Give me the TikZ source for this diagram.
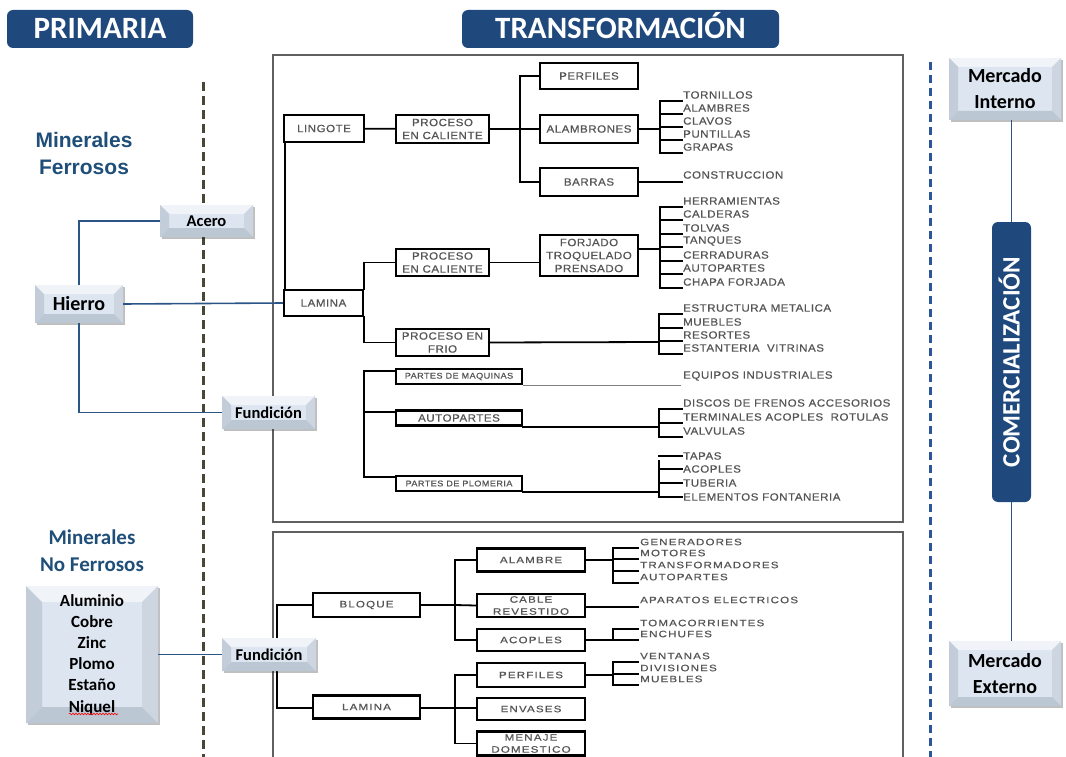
\documentclass[tikz,border=0pt]{standalone}
\usepackage{fontspec}
\setmainfont{Carlito}
\newfontfamily\arialf{Liberation Sans}
\newfontfamily\treef[LetterSpace=5,FakeStretch=1.1,FakeBold=0.6]{Liberation Sans}
\newfontfamily\treefb[LetterSpace=12,FakeStretch=1.25,FakeBold=0.6]{Liberation Sans}
\usetikzlibrary{calc,shadows,decorations.pathmorphing}
\definecolor{navy}{HTML}{1F497D}
\definecolor{mtitle}{HTML}{1F4E79}
\definecolor{connblue}{HTML}{2C5587}
\definecolor{dashol}{HTML}{4A4637}
\definecolor{dashbl}{HTML}{2B579A}
\definecolor{tgray}{HTML}{555555}
\definecolor{bvmid}{HTML}{DCE5F0}
\definecolor{bvtop}{HTML}{F0F4F8}
\definecolor{bvleft}{HTML}{C3CDD9}
\definecolor{bvright}{HTML}{CDD6E0}
\definecolor{bvbot}{HTML}{BCC7D4}
\tikzset{
  banner/.style={fill=navy, rounded corners=6pt, text=white, inner sep=0pt,
    font=\bfseries\fontsize{31}{32}\selectfont, text height=20pt, text depth=0pt},
  bevel/.style={fill=bvmid, inner sep=0pt, align=center, text=black,
    drop shadow={shadow xshift=1.5pt, shadow yshift=-2pt, opacity=.25, fill=black},
    path picture={
      \coordinate (bNW) at (path picture bounding box.north west);
      \coordinate (bNE) at (path picture bounding box.north east);
      \coordinate (bSW) at (path picture bounding box.south west);
      \coordinate (bSE) at (path picture bounding box.south east);
      \fill[bvtop] (bNW) -- (bNE) -- ($(bNE)+(-#1,-#1)$) -- ($(bNW)+(#1,-#1)$) -- cycle;
      \fill[bvleft] (bNW) -- ($(bNW)+(#1,-#1)$) -- ($(bSW)+(#1,#1)$) -- (bSW) -- cycle;
      \fill[bvright] (bNE) -- (bSE) -- ($(bSE)+(-#1,#1)$) -- ($(bNE)+(-#1,-#1)$) -- cycle;
      \fill[bvbot] (bSW) -- (bSE) -- ($(bSE)+(-#1,#1)$) -- ($(bSW)+(#1,#1)$) -- cycle;
    }},
  bevel/.default=9pt,
  bconn/.style={draw=connblue, line width=1.6pt},
  tbox/.style={draw=black, line width=2.4pt, fill=white, inner sep=0pt, align=center,
    text=tgray, font=\treef\fontsize{10.5}{13}\selectfont},
  lbox/.style={tbox, font=\treefb\fontsize{9.3}{12}\selectfont},
  leaf/.style={anchor=west, inner sep=0pt, text=tgray, font=\treef\fontsize{10.5}{12}\selectfont},
  leafb/.style={leaf, font=\treefb\fontsize{9.3}{11}\selectfont},
  tconn/.style={draw=black, line width=1.8pt, line cap=rect},
  thin/.style={draw=gray, line width=1pt},
  frame/.style={draw=gray!75!black, line width=1.1pt},
  mtext/.style={text=mtitle, align=center, inner sep=0pt},
}
\begin{document}
\begin{tikzpicture}[x=1pt,y=-1pt]
\useasboundingbox (0,0) rectangle (1066,757);

% separators and frames
\draw[dashol, line width=3pt, dash pattern=on 9pt off 5pt] (203,82) -- (203,757);
\draw[dashbl, line width=3pt, dash pattern=on 8pt off 5pt] (930,62) -- (930,757);
\draw[frame] (273,55) rectangle (903,522);
\draw[frame] (273,532) rectangle (903,770);

% banners
\node[banner, minimum width=186pt, minimum height=38pt] (prim) at (100,29) {PRIMARIA};
\node[banner, minimum width=317pt, minimum height=38pt] (trans) at (620.5,29) {TRANSFORMACIÓN};

% titles
\node[mtext, font=\arialf\bfseries\fontsize{21}{27}\selectfont] (mf) at (84,153) {Minerales\\Ferrosos};
\node[mtext, font=\bfseries\fontsize{21}{27}\selectfont] (mnf) at (92,551) {Minerales\\No Ferrosos};

% ===== upper tree =====
\node[tbox, minimum width=80pt, minimum height=27pt] (lingote) at (324,128.5) {LINGOTE};
\node[tbox, minimum width=93pt, minimum height=28pt] (pc1) at (442.5,129) {PROCESO\\EN CALIENTE};
\node[tbox, minimum width=98pt, minimum height=26pt] (perfiles) at (589,76) {PERFILES};
\node[tbox, minimum width=98pt, minimum height=28pt] (alambrones) at (589,129) {ALAMBRONES};
\node[tbox, minimum width=98pt, minimum height=28pt] (barras) at (589,182) {BARRAS};
\node[tbox, minimum width=93pt, minimum height=27pt] (pc2) at (442.5,262.5) {PROCESO\\EN CALIENTE};
\node[tbox, minimum width=98pt, minimum height=41pt] (forj) at (589,255.5) {FORJADO\\TROQUELADO\\PRENSADO};
\node[tbox, minimum width=79pt, minimum height=26pt] (lamina) at (323.5,303) {LAMINA};
\node[tbox, minimum width=93pt, minimum height=27pt] (pfrio) at (442.5,342.5) {PROCESO EN\\FRIO};
\node[tbox, minimum width=126pt, minimum height=15pt, font=\treef\fontsize{8.3}{10}\selectfont] (pmaq) at (459,376.5) {PARTES DE MAQUINAS};
\node[tbox, minimum width=126pt, minimum height=15pt] (autop) at (459,418) {AUTOPARTES};
\node[tbox, minimum width=126pt, minimum height=15pt, font=\treef\fontsize{8.3}{10}\selectfont] (pplom) at (459,483.5) {PARTES DE PLOMERIA};

% upper connectors
\draw[tconn] (lingote) -- (pc1);
\draw[tconn] (pc1) -- (alambrones);
\coordinate (t1) at (520,129);
\draw[tconn] (perfiles.west) -| (t1) |- (barras.west);
\draw[tconn] ([xshift=2pt]lingote.south west) -- ([xshift=2pt]lamina.north west);
\draw[tconn] (lamina.north east) |- (pc2.west);
\draw[tconn] (lamina.south east) |- (pfrio.west);
\draw[tconn] (pc2.east) -- (pc2.east -| forj.west);
\coordinate (ft) at (364,371);
\coordinate (fb) at (364,477);
\draw[tconn] (ft -| pmaq.west) -- (ft) -- (fb) -- (fb -| pplom.west);
\draw[tconn] (autop.west |- 0,412) -- (ft |- 0,412);

% leaves: alambrones
\coordinate (bA) at (660,129);
\draw[tconn] (alambrones.east) -- (bA);
\draw[tconn] (660,101) -- (660,153);
\foreach \t/\y [count=\i] in {TORNILLOS/95, ALAMBRES/108, CLAVOS/121, PUNTILLAS/134, GRAPAS/147}{
  \node[leaf] (ga\i) at (683,\y) {\t};
  \draw[tconn] (660,\y+6) -- ([yshift=-6pt,xshift=-1pt]ga\i.west);
}
\node[leaf] (c1) at (683,175) {CONSTRUCCION};
\draw[tconn] (barras.east) -- ([xshift=-1pt]barras.east -| c1.west);
% leaves: forjado
\coordinate (bF) at (660,249);
\draw[tconn] (forj.east |- bF) -- (bF);
\draw[tconn] (660,207) -- (660,288);
\foreach \t/\y [count=\i] in {HERRAMIENTAS/201, CALDERAS/214, TOLVAS/228, TANQUES/241, CERRADURAS/255, AUTOPARTES/268, CHAPA FORJADA/282}{
  \node[leaf] (gb\i) at (683,\y) {\t};
  \draw[tconn] (660,\y+6) -- ([yshift=-6pt,xshift=-1pt]gb\i.west);
}
% leaves: frio
\coordinate (bR) at (659,342);
\draw[tconn] (pfrio.east) -- (bR);
\draw[tconn] (659,314) -- (659,354);
\foreach \t/\y [count=\i] in {ESTRUCTURA METALICA/308, MUEBLES/322, RESORTES/335, ESTANTERIA\ \ VITRINAS/348}{
  \node[leaf] (gc\i) at (683,\y) {\t};
  \draw[tconn] (659,\y+6) -- ([yshift=-6pt,xshift=-1pt]gc\i.west);
}
% maquinas
\node[leaf] (eq) at (683,376) {EQUIPOS INDUSTRIALES};
\draw[thin] (pmaq.south east) -- ([xshift=-2pt]pmaq.south east -| eq.west);
% autopartes
\coordinate (bU) at (659,425);
\draw[tconn] (autop.south east) -- (autop.south east -| bU);
\draw[tconn] (659,409) -- (659,437);
\foreach \t/\y [count=\i] in {DISCOS DE FRENOS ACCESORIOS/403, TERMINALES ACOPLES\ \ ROTULAS/417, VALVULAS/431}{
  \node[leaf] (gd\i) at (683,\y) {\t};
  \draw[tconn] (659,\y+6) -- ([yshift=-6pt,xshift=-1pt]gd\i.west);
}
% plomeria
\coordinate (bP) at (659,491);
\draw[tconn] (pplom.south east) -- (pplom.south east -| bP);
\draw[tconn] (659,461) -- (659,497);
\foreach \t/\y [count=\i] in {TAPAS/456, ACOPLES/469, TUBERIA/483, ELEMENTOS FONTANERIA/497}{
  \node[leaf] (ge\i) at (683,\y) {\t};
  \draw[tconn] (659,\y) -- ([yshift=0pt,xshift=-1pt]ge\i.west);
}

% ===== lower tree =====
\node[lbox, minimum width=107pt, minimum height=24pt] (bloque) at (366.5,605) {BLOQUE};
\node[lbox, minimum width=107pt, minimum height=23pt] (lamina2) at (366.5,707) {LAMINA};
\node[lbox, minimum width=108pt, minimum height=23pt] (alambre) at (531,560) {ALAMBRE};
\node[lbox, minimum width=108pt, minimum height=23pt] (cable) at (531,605.5) {CABLE\\REVESTIDO};
\node[lbox, minimum width=108pt, minimum height=22pt] (acoples) at (531,640) {ACOPLES};
\node[lbox, minimum width=108pt, minimum height=24pt] (perf2) at (531,675) {PERFILES};
\node[lbox, minimum width=108pt, minimum height=22pt] (envases) at (531,709) {ENVASES};
\node[lbox, minimum width=108pt, minimum height=24pt] (menaje) at (531,743.5) {MENAJE\\DOMESTICO};

\coordinate (lt) at (277,605);
\coordinate (lb) at (277,708);
\draw[tconn] (bloque.west) -- (lt) -- (lb) -- (lamina2.west |- lb);
\coordinate (m1) at (455,605);
\draw[tconn] (bloque.east) -- (m1);
\draw[tconn] (alambre.west) -| (m1) |- (acoples.west);
\draw[tconn] (m1) -- (cable.west);
\coordinate (m2) at (455,708);
\draw[tconn] (lamina2.east |- m2) -- (m2);
\draw[tconn] (perf2.west) -| (m2) |- (menaje.west);
\draw[tconn] (m2) -- (envases.west |- m2);

% lower leaves
\coordinate (bL) at (613,560);
\draw[tconn] (alambre.east) -- (bL);
\draw[tconn] (613,548) -- (613,583);
\foreach \t/\y [count=\i] in {GENERADORES/542, MOTORES/553, TRANSFORMADORES/565, AUTOPARTES/577}{
  \node[leafb] (gf\i) at (640,\y) {\t};
  \draw[tconn] (613,\y+6) -- ([yshift=-6pt,xshift=-2pt]gf\i.west);
}
\node[leafb] (ap) at (640,600) {APARATOS ELECTRICOS};
\draw[tconn] (cable.east |- 0,607) -- ([xshift=-2pt,yshift=-7pt]ap.west);
\coordinate (bC) at (613,640);
\draw[tconn] (acoples.east) -- (bC);
\draw[tconn] (613,629) -- (613,640);
\foreach \t/\y [count=\i] in {TOMACORRIENTES/623, ENCHUFES/634}{
  \node[leafb] (gg\i) at (640,\y) {\t};
  \draw[tconn] (613,\y+6) -- ([yshift=-6pt,xshift=-2pt]gg\i.west);
}
\coordinate (bV) at (613,675);
\draw[tconn] (perf2.east) -- (bV);
\draw[tconn] (613,662) -- (613,685);
\foreach \t/\y [count=\i] in {VENTANAS/656, DIVISIONES/668, MUEBLES/679}{
  \node[leafb] (gh\i) at (640,\y) {\t};
  \draw[tconn] (613,\y+6) -- ([yshift=-6pt,xshift=-2pt]gh\i.west);
}

% ===== primaria boxes =====
\node[bevel, minimum width=93pt, minimum height=32pt, font=\bfseries\fontsize{16.5}{18}\selectfont] (acero) at (206.5,221) {Acero};
\node[bevel, minimum width=88pt, minimum height=38pt, font=\bfseries\fontsize{20}{22}\selectfont] (hierro) at (79,304) {Hierro};
\node[bevel, minimum width=93pt, minimum height=33pt, font=\bfseries\fontsize{16.5}{18}\selectfont] (fund1) at (268.5,412.5) {Fundición};
\node[bevel=16pt, minimum width=132pt, minimum height=137pt, font=\bfseries\fontsize{17}{21.2}\selectfont] (minbox) at (92,654.5) {Aluminio\\Cobre\\Zinc\\Plomo\\Estaño\\Niquel};
\node[bevel, minimum width=94pt, minimum height=33pt, font=\bfseries\fontsize{16.5}{18}\selectfont] (fund2) at (269,654.5) {Fundición};
\draw[red, line width=0.6pt, decorate, decoration={snake, amplitude=0.8pt, segment length=3pt}] (69,714) -- (118,714);

\draw[bconn] (hierro.north) |- (acero.west);
\draw[bconn] (hierro.south) |- (fund1.west);
\draw[bconn] (hierro.east) -- (lamina.west);
\draw[bconn] (minbox.east |- fund2.west) -- (fund2.west);

% ===== comercializacion =====
\node[bevel, minimum width=112pt, minimum height=62pt, font=\bfseries\fontsize{20}{26}\selectfont] (mi) at (1005,89) {Mercado\\Interno};
\node[bevel, minimum width=112pt, minimum height=65pt, font=\bfseries\fontsize{20}{26}\selectfont] (me) at (1005,673.5) {Mercado\\Externo};
\node[banner, rotate=90, minimum width=280pt, minimum height=39pt, font=\bfseries\fontsize{25}{26}\selectfont, text height=16pt] (com) at (1011.5,362) {COMERCIALIZACIÓN};
\draw[bconn] (com.east |- mi.south) -- (com.east);
\draw[bconn] (com.west) -- (com.west |- me.north);
\end{tikzpicture}
\end{document}
